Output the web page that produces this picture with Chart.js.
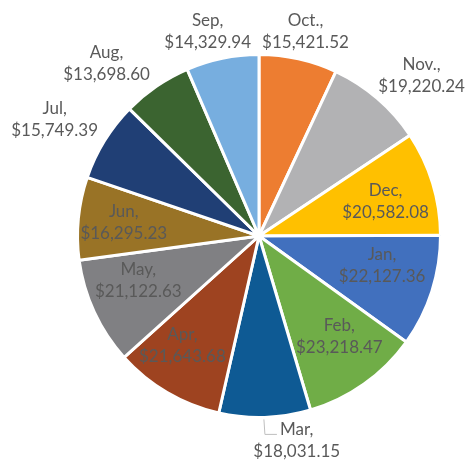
<!DOCTYPE html>
<html>
<head>
<meta charset="utf-8">
<script src="https://cdn.jsdelivr.net/npm/chart.js@4"></script>
<style>
  body { margin: 0; background: #fff; }
  canvas { display: block; }
</style>
</head>
<body>
<canvas id="pie" width="467" height="466"></canvas>
<script>
// months, starting at 12 o'clock and going clockwise
const months = ["Oct.", "Nov.", "Dec", "Jan", "Feb", "Mar", "Apr", "May", "Jun", "Jul", "Aug", "Sep"]
const amounts = [15421.52, 19220.24, 20582.08, 22127.36, 23218.47, 18031.15, 21643.68, 21122.63, 16295.23, 15749.39, 13698.60, 14329.94]
const colors = ["#ED7D31", "#B2B2B4", "#FFC000", "#4170BE", "#70AD47", "#0E5A94", "#9E4320", "#808083", "#997326", "#203F75", "#3B6430", "#77AEDF"]

const money = v => "$" + v.toLocaleString("en-US", {minimumFractionDigits: 2, maximumFractionDigits: 2})

// label placement: inside or outside the slice, plus a small nudge (px) like excel's best fit
const outside = [true, true, false, false, false, true, false, false, false, true, true, true]
const nudge = [[1,0],[26,-2],[12,0],[9,-7],[11,3],[31,-5],[-16,6],[-12,-6],[-16,-2],[-26,-7],[-34,0],[-9,1]]

const labelPlugin = {
  id: "sliceLabels",
  afterDatasetsDraw(chart) {
    const ctx = chart.ctx
    const arcs = chart.getDatasetMeta(0).data
    ctx.save()
    ctx.font = "17px Lato"
    ctx.fillStyle = "#595959"
    ctx.textAlign = "center"
    ctx.textBaseline = "middle"
    arcs.forEach((arc, i) => {
      const p = arc.getProps(["x", "y", "startAngle", "endAngle", "outerRadius"], true)
      let mid = (p.startAngle + p.endAngle) / 2
      let dist = outside[i] ? p.outerRadius + 28 : p.outerRadius * 0.66
      let x = p.x + Math.cos(mid) * dist + nudge[i][0]
      let y = p.y + Math.sin(mid) * dist + nudge[i][1]
      if (months[i] == "Mar") {
        // leader line from the slice edge to the label
        const ex = p.x + Math.cos(mid) * (p.outerRadius + 2)
        const ey = p.y + Math.sin(mid) * (p.outerRadius + 2)
        ctx.strokeStyle = "#BFBFBF"
        ctx.lineWidth = 1
        ctx.beginPath()
        ctx.moveTo(ex - 1, ey)
        ctx.lineTo(ex, ey + 15)
        ctx.lineTo(ex + 12, ey + 15)
        ctx.stroke()
      }
      ctx.fillText(months[i] + ",", x, y - 11)
      ctx.fillText(money(amounts[i]), x, y + 11)
    })
    ctx.restore()
  }
}

new Chart(document.getElementById("pie"), {
  type: "pie",
  data: {
    labels: months,
    datasets: [{
      data: amounts,
      backgroundColor: colors,
      borderColor: "#ffffff",
      borderWidth: 3
    }]
  },
  options: {
    responsive: false,
    animation: false,
    layout: { padding: { left: 76, right: 25, top: 53, bottom: 47 } },
    plugins: {
      legend: { display: false },
      tooltip: { enabled: false }
    }
  },
  plugins: [labelPlugin]
})
</script>
</body>
</html>
